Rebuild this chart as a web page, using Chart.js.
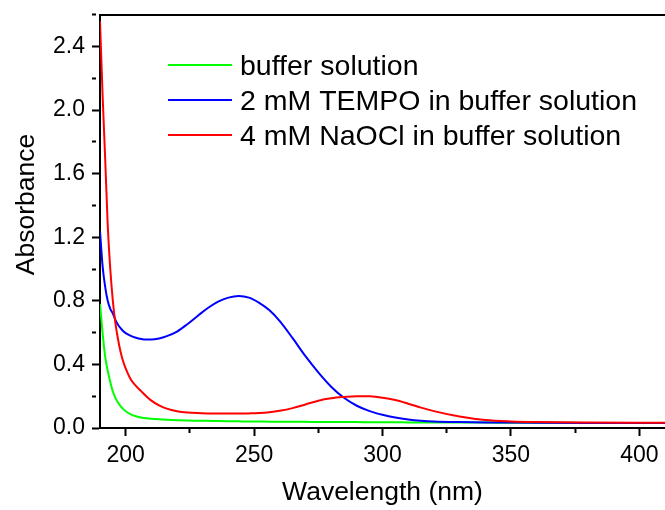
<!DOCTYPE html>
<html><head><meta charset="utf-8">
<script src="https://cdn.jsdelivr.net/npm/chart.js@4"></script>
<style>html,body{margin:0;padding:0;background:#fff;overflow:hidden}</style>
</head><body>
<div style="width:665px;height:510px"><canvas id="c" width="665" height="510"></canvas></div>
<script>
const wavelengths = [190,191,192,193,194,195,196,197,198,199,200,202,204,206,208,210,213,216,220,224,228,232,236,240,244,248,252,256,260,265,270,275,280,285,290,295,300,305,310,315,320,330,340,350,360,380,400,410];
const bufferSolution = [0.78,0.60,0.45,0.36,0.29,0.23,0.19,0.16,0.138,0.12,0.105,0.086,0.074,0.066,0.061,0.058,0.055,0.052,0.049,0.047,0.046,0.045,0.044,0.043,0.042,0.041,0.041,0.040,0.040,0.039,0.039,0.038,0.038,0.037,0.037,0.036,0.036,0.036,0.035,0.035,0.035,0.034,0.034,0.033,0.033,0.032,0.031,0.031];
const tempoSolution = [1.24,1.02,0.89,0.80,0.75,0.72,0.68,0.65,0.628,0.61,0.597,0.58,0.568,0.56,0.556,0.556,0.563,0.578,0.607,0.653,0.705,0.755,0.795,0.82,0.83,0.82,0.787,0.74,0.672,0.565,0.452,0.35,0.26,0.19,0.14,0.106,0.083,0.066,0.054,0.046,0.041,0.037,0.035,0.034,0.033,0.032,0.032,0.032];
const naoclSolution = [2.56,2.10,1.70,1.28,1.00,0.80,0.66,0.56,0.48,0.42,0.375,0.305,0.265,0.232,0.20,0.172,0.142,0.122,0.106,0.098,0.094,0.092,0.091,0.091,0.091,0.092,0.094,0.099,0.108,0.125,0.148,0.172,0.187,0.195,0.20,0.199,0.191,0.176,0.153,0.128,0.106,0.072,0.05,0.041,0.037,0.034,0.033,0.033];
const seriesLabels = ['buffer solution','2 mM TEMPO in buffer solution','4 mM NaOCl in buffer solution'];
const seriesColors = ['#00ff00','#0000ff','#ff0000'];
const xTickLabels = [200,250,300,350,400];
const yTickLabels = ['0.0','0.4','0.8','1.2','1.6','2.0','2.4'];
const xTitle = 'Wavelength (nm)';
const yTitle = 'Absorbance';

const FONT = "'Liberation Sans', Arial, sans-serif";
const toPts = arr => wavelengths.map((w,i)=>({x:w,y:arr[i]}));
const seriesValues = [bufferSolution, tempoSolution, naoclSolution];

const extras = {
  id:'extras',
  afterDraw(chart){
    const ctx = chart.ctx, a = chart.chartArea;
    ctx.save();
    ctx.strokeStyle='#000'; ctx.lineWidth=2;
    ctx.beginPath(); ctx.moveTo(a.left, Math.round(a.top)); ctx.lineTo(a.right+2, Math.round(a.top)); ctx.stroke();
    ctx.font = '28.5px ' + FONT; ctx.fillStyle='#000'; ctx.textBaseline='alphabetic'; ctx.textAlign='left';
    chart.data.datasets.forEach((ds,i)=>{
      const y = 65 + 35*i;
      ctx.strokeStyle = ds.borderColor; ctx.lineWidth = 2;
      ctx.beginPath(); ctx.moveTo(168,y); ctx.lineTo(232,y); ctx.stroke();
      ctx.fillText(ds.label, 240, y+9.5);
    });
    ctx.font = '26.5px ' + FONT;
    ctx.translate(24, 204.5); ctx.rotate(-Math.PI/2);
    ctx.textAlign='center'; ctx.textBaseline='alphabetic';
    ctx.fillText(yTitle, 0, 9.5);
    ctx.restore();
  }
};

new Chart(document.getElementById('c'), {
  type:'line',
  data:{ datasets: seriesLabels.map((l,i)=>({
    label:l, data: toPts(seriesValues[i]), borderColor: seriesColors[i], backgroundColor: seriesColors[i],
    borderWidth:2, pointRadius:0, fill:false, cubicInterpolationMode:'monotone', order: 3-i
  }))},
  options:{
    responsive:false, animation:false,
    layout:{padding:{top:14.7,left:0,right:0,bottom:0}},
    plugins:{legend:{display:false}, tooltip:{enabled:false}},
    scales:{
      x:{
        type:'linear', min:190, max:410,
        border:{display:true,color:'#000',width:2},
        grid:{drawOnChartArea:false, tickLength:8, tickWidth:2, tickColor:'#000',
          tickBorderDash: c => xTickLabels.includes(c.tick && c.tick.value) ? [] : [4,100]},
        ticks:{stepSize:25, includeBounds:false, autoSkip:false, maxRotation:0, color:'#000', padding:6,
          font:{family:FONT,size:23},
          callback: v => xTickLabels.includes(v) ? String(v) : ''},
        title:{display:true, text:xTitle, color:'#000', font:{family:FONT,size:26.5}, padding:{top:0,bottom:1}},
        afterFit: s => { s.height = 82; s.paddingLeft = 0; s.paddingRight = 0; }
      },
      y:{
        type:'linear', min:0, max:2.6,
        border:{display:true,color:'#000',width:2},
        grid:{drawOnChartArea:false, tickLength:8, tickWidth:2, tickColor:'#000',
          tickBorderDash: c => (c.tick && Math.round(c.tick.value*10)%4===0) ? [] : [4,100]},
        ticks:{stepSize:0.2, autoSkip:false, color:'#000', padding:7,
          font:{family:FONT,size:23},
          callback: v => { const s = v.toFixed(1); return (Math.round(v*10)%4===0 && yTickLabels.includes(s)) ? s : ''; }},
        title:{display:false},
        afterFit: s => { s.width = 100; s.paddingTop = 0; s.paddingBottom = 0; }
      }
    }
  },
  plugins:[extras]
});
</script>
</body></html>
